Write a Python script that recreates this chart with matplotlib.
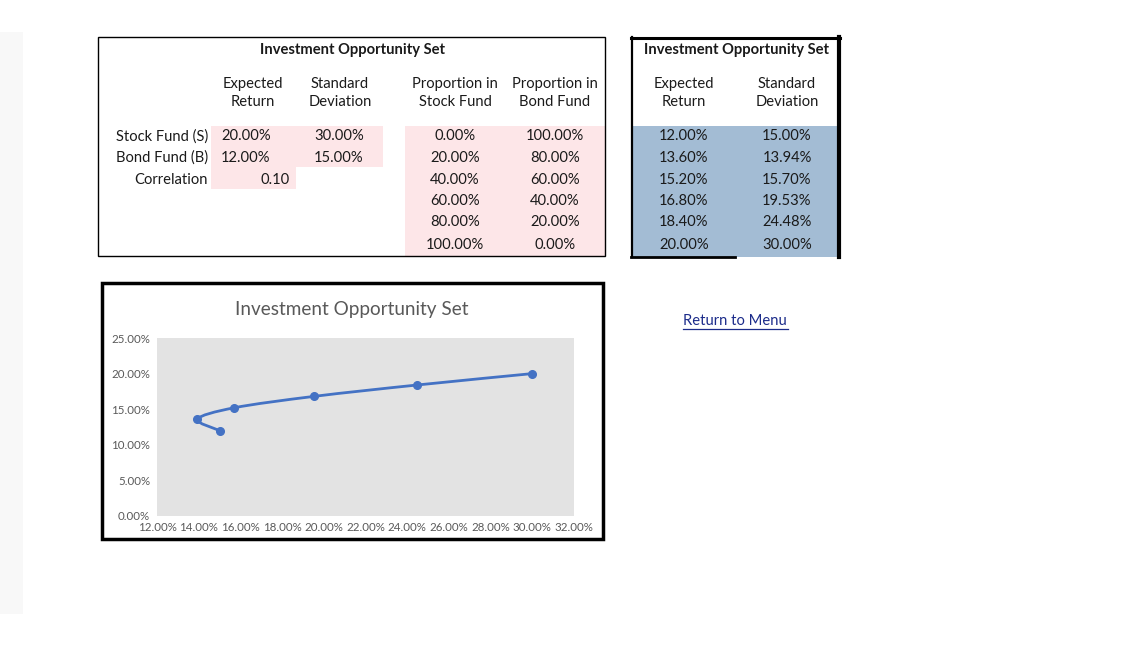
import matplotlib
matplotlib.use("Agg")
import matplotlib.pyplot as plt
from matplotlib.patches import Rectangle
from matplotlib.path import Path
from matplotlib.patches import PathPatch
from matplotlib.ticker import FuncFormatter

plt.rcParams['font.family'] = ['Lato', 'DejaVu Sans']

# Inputs
fund_names = ['Stock Fund (S)', 'Bond Fund (B)']
fund_returns = [20.00, 12.00]
fund_sds = [30.00, 15.00]
correlation = 0.10

# Portfolio weights
stock_weights = [0.00, 20.00, 40.00, 60.00, 80.00, 100.00]
bond_weights = [100.00, 80.00, 60.00, 40.00, 20.00, 0.00]

# Opportunity set
set_returns = [12.00, 13.60, 15.20, 16.80, 18.40, 20.00]
set_sds = [15.00, 13.94, 15.70, 19.53, 24.48, 30.00]

x_ticks = [12, 14, 16, 18, 20, 22, 24, 26, 28, 30, 32]
y_ticks = [0, 5, 10, 15, 20, 25]

W, H = 1130, 654
fig = plt.figure(figsize=(W / 100, H / 100), dpi=100)
bg = fig.add_axes([0, 0, 1, 1])
bg.set_xlim(0, W)
bg.set_ylim(H, 0)
bg.axis('off')

pink = '#fde6e8'
blue = '#a3bcd4'
txt = '#1a1a1a'
fs = 10.6

# left strip
bg.add_patch(Rectangle((0, 32), 23, 582, facecolor='#f8f8f8', edgecolor='none'))

# ---- table 1 ----
bg.add_patch(Rectangle((211, 126), 172, 41, facecolor=pink, edgecolor='none'))
bg.add_patch(Rectangle((211, 167), 85, 22, facecolor=pink, edgecolor='none'))
bg.add_patch(Rectangle((405, 126), 200, 130, facecolor=pink, edgecolor='none'))
bg.add_patch(Rectangle((98, 37), 507, 219, facecolor='none', edgecolor='black', lw=1))

bg.text(352, 50, 'Investment Opportunity Set', ha='center', va='center',
        fontsize=fs, fontweight='bold', color=txt)
for cx, lab in [(253, 'Expected\nReturn'), (340, 'Standard\nDeviation'),
                (455, 'Proportion in\nStock Fund'), (555, 'Proportion in\nBond Fund')]:
    bg.text(cx, 93, lab, ha='center', va='center', fontsize=fs, color=txt,
            linespacing=1.3)

row_y = [136.5, 158, 179.5, 201, 222.5, 245]
for i, name in enumerate(fund_names):
    bg.text(208, row_y[i], name, ha='right', va='center', fontsize=fs, color=txt)
    bg.text(246, row_y[i], f'{fund_returns[i]:.2f}%', ha='center', va='center',
            fontsize=fs, color=txt)
    bg.text(339, row_y[i], f'{fund_sds[i]:.2f}%', ha='center', va='center',
            fontsize=fs, color=txt)
bg.text(208, row_y[2], 'Correlation', ha='right', va='center', fontsize=fs, color=txt)
bg.text(290, row_y[2], f'{correlation:.2f}', ha='right', va='center', fontsize=fs, color=txt)

for i in range(len(stock_weights)):
    bg.text(455, row_y[i], f'{stock_weights[i]:.2f}%', ha='center', va='center',
            fontsize=fs, color=txt)
    bg.text(555, row_y[i], f'{bond_weights[i]:.2f}%', ha='center', va='center',
            fontsize=fs, color=txt)

# ---- table 2 ----
bg.add_patch(Rectangle((632, 126), 207, 131, facecolor=blue, edgecolor='none'))
bg.plot([632, 632], [37, 257], color='black', lw=1.6)
bg.plot([631, 840], [38, 38], color='black', lw=2.2)
bg.plot([839, 839], [37, 257], color='black', lw=3)
bg.plot([631, 735], [256.5, 256.5], color='black', lw=2)
bg.text(736, 50, 'Investment Opportunity Set', ha='center', va='center',
        fontsize=fs, fontweight='bold', color=txt)
bg.text(684, 93, 'Expected\nReturn', ha='center', va='center', fontsize=fs,
        color=txt, linespacing=1.3)
bg.text(787, 93, 'Standard\nDeviation', ha='center', va='center', fontsize=fs,
        color=txt, linespacing=1.3)
for i in range(len(set_returns)):
    bg.text(684, row_y[i], f'{set_returns[i]:.2f}%', ha='center', va='center',
            fontsize=fs, color=txt)
    bg.text(787, row_y[i], f'{set_sds[i]:.2f}%', ha='center', va='center',
            fontsize=fs, color=txt)

# link
bg.text(735, 321, 'Return to Menu', ha='center', va='center', fontsize=fs,
        color='#1b2b8a')
bg.plot([683, 788], [329, 329], color='#1b2b8a', lw=0.9)

# ---- chart ----
bg.add_patch(Rectangle((102, 283), 501, 256, facecolor='white', edgecolor='black', lw=2.5))
bg.text(352, 310, 'Investment Opportunity Set', ha='center', va='center',
        fontsize=13.6, color='#595959')

ax = fig.add_axes([157 / W, 1 - 516 / H, 417 / W, 178 / H])
ax.set_facecolor('#e3e3e3')
ax.set_xlim(12, 32)
ax.set_ylim(0, 25)
ax.set_xticks(x_ticks)
ax.set_yticks(y_ticks)
pct = FuncFormatter(lambda v, p: f'{v:.2f}%')
ax.xaxis.set_major_formatter(pct)
ax.yaxis.set_major_formatter(pct)
ax.tick_params(length=0, labelsize=8.3, colors='#595959')
ax.tick_params(axis='x', pad=4)
ax.tick_params(axis='y', pad=5)
for s in ax.spines.values():
    s.set_visible(False)

# smoothed line (Catmull-Rom as cubic Bezier segments)
pts = list(zip(set_sds, set_returns))
verts = [pts[0]]
codes = [Path.MOVETO]
for i in range(len(pts) - 1):
    p0 = pts[i - 1] if i > 0 else pts[i]
    p1, p2 = pts[i], pts[i + 1]
    p3 = pts[i + 2] if i + 2 < len(pts) else pts[i + 1]
    c1 = (p1[0] + (p2[0] - p0[0]) / 6, p1[1] + (p2[1] - p0[1]) / 6)
    c2 = (p2[0] - (p3[0] - p1[0]) / 6, p2[1] - (p3[1] - p1[1]) / 6)
    verts += [c1, c2, p2]
    codes += [Path.CURVE4] * 3
ax.add_patch(PathPatch(Path(verts, codes), facecolor='none', edgecolor='#4472c4', lw=2))
ax.plot(set_sds, set_returns, linestyle='none', marker='o', markersize=5.5,
        color='#4472c4')

fig.savefig('out.png', dpi=100)
